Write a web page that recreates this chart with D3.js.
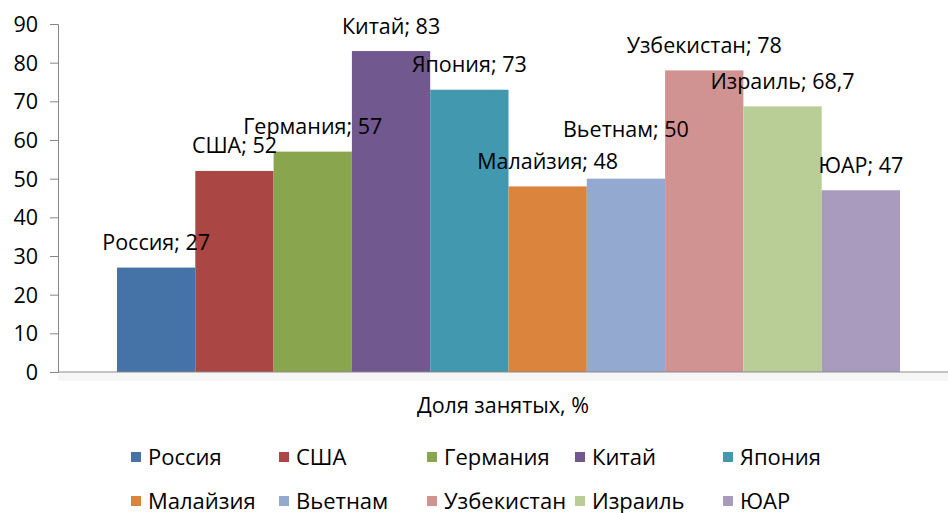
<!DOCTYPE html>
<html>
<head>
<meta charset="utf-8">
<script src="https://cdn.jsdelivr.net/npm/d3@7"></script>
<style>
  body { margin: 0; background: #fff; }
  svg text { font-family: "Open Sans", "Liberation Sans", sans-serif; fill: #000; }
</style>
</head>
<body>
<div id="chart"></div>
<script>
// Data
const countries = ["Россия", "США", "Германия", "Китай", "Япония",
                   "Малайзия", "Вьетнам", "Узбекистан", "Израиль", "ЮАР"];
const values = [27, 52, 57, 83, 73, 48, 50, 78, 68.7, 47];
const valueLabels = ["27", "52", "57", "83", "73", "48", "50", "78", "68,7", "47"];
const yTicks = [0, 10, 20, 30, 40, 50, 60, 70, 80, 90];
const categoryName = "Доля занятых, %";

const colors = ["#4572A7", "#AA4643", "#89A54E", "#71588F", "#4198AF",
                "#DB843D", "#93A9CF", "#D19392", "#B9CD96", "#A99BBD"];

// label moved up by hand in the original so it clears its neighbour
const labelNudge = { "Вьетнам": -24 };

var w = 948;
var h = 513;
var margin = { left: 58, right: 0, top: 24, bottom: 141 };
var fontSize = "21.5px";

var svg = d3.select("#chart")
    .append("svg")
    .attr("width", w)
    .attr("height", h);

var y = d3.scaleLinear()
    .domain([0, 90])
    .range([h - margin.bottom, margin.top]);

// the one category occupies the band, series bars sit side by side inside it
var x = d3.scaleBand()
    .domain(countries)
    .range([117, 900])
    .padding(0);

var color = d3.scaleOrdinal()
    .domain(countries)
    .range(colors);

// faint shade under the axis
svg.append("rect")
    .attr("x", margin.left)
    .attr("y", y(0) + 1)
    .attr("width", w - margin.left)
    .attr("height", 8)
    .attr("fill", "#f6f6f6");

//Bars
svg.selectAll(".bar")
    .data(countries)
    .join("rect")
    .attr("class", "bar")
    .attr("x", d => x(d))
    .attr("y", (d, i) => y(values[i]))
    .attr("width", x.bandwidth())
    .attr("height", (d, i) => y(0) - y(values[i]))
    .attr("fill", d => color(d));

//Y axis
var yAxis = svg.append("g")
    .attr("transform", `translate(${margin.left},0)`)
    .call(d3.axisLeft(y).tickValues(yTicks).tickSize(8).tickPadding(12));

yAxis.select(".domain").attr("stroke", "#868686");
yAxis.selectAll(".tick line").attr("stroke", "#868686");
yAxis.selectAll(".tick text")
    .style("font-size", fontSize)
    .attr("dy", "0.35em");

//X axis line
svg.append("line")
    .attr("x1", margin.left)
    .attr("x2", w)
    .attr("y1", y(0))
    .attr("y2", y(0))
    .attr("stroke", "#868686");

//Data labels
svg.selectAll(".label")
    .data(countries)
    .join("text")
    .attr("class", "label")
    .attr("x", d => x(d) + x.bandwidth() / 2)
    .attr("y", (d, i) => y(values[i]) - 25 + (labelNudge[d] || 0))
    .attr("dy", "0.35em")
    .attr("text-anchor", "middle")
    .style("font-size", fontSize)
    .text((d, i) => d + "; " + valueLabels[i]);

//Category label
svg.append("text")
    .attr("x", (margin.left + w) / 2)
    .attr("y", 405)
    .attr("dy", "0.35em")
    .attr("text-anchor", "middle")
    .style("font-size", fontSize)
    .text(categoryName);

//Legend
var legendCol = d3.scaleBand()
    .domain(d3.range(5))
    .range([131, 131 + 5 * 148]);

var legend = svg.selectAll(".legend")
    .data(countries)
    .join("g")
    .attr("class", "legend")
    .attr("transform", (d, i) => `translate(${legendCol(i % 5)},${457 + Math.floor(i / 5) * 44})`);

legend.append("rect")
    .attr("x", 0)
    .attr("y", -5)
    .attr("width", 10)
    .attr("height", 10)
    .attr("fill", d => color(d));

legend.append("text")
    .attr("x", 17)
    .attr("y", 0)
    .attr("dy", "0.35em")
    .style("font-size", "22px")
    .text(d => d);
</script>
</body>
</html>
